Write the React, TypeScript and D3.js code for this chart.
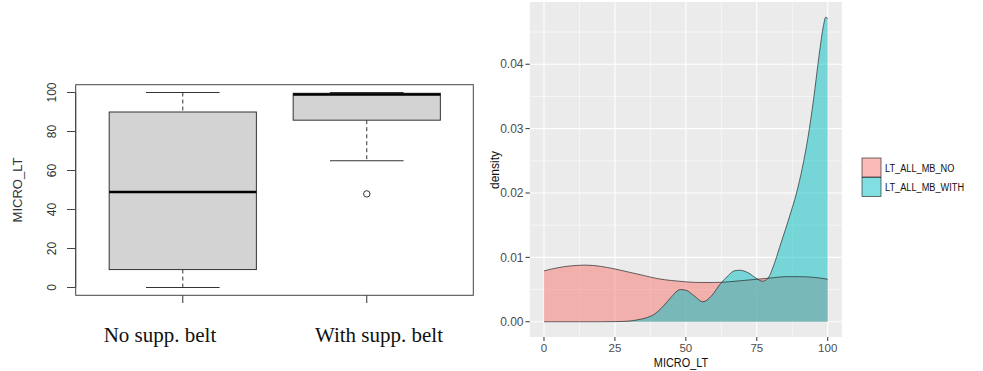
import { useEffect, useRef } from 'react';
import * as d3 from 'd3';

// left panel: boxplot of MICRO_LT by group
const groups = ['No supp. belt', 'With supp. belt'];
const whiskerLow = [0, 65];
const q1 = [9.2, 85.8];
const medians = [49, 99];
const q3 = [90, 99.6];
const whiskerHigh = [100, 100];
const outliers = [[], [48]];
const boxTicks = [0, 20, 40, 60, 80, 100];

// right panel: density curves
const noBeltX = [0, 5, 10, 15, 20, 25, 30, 35, 40, 45, 50, 55, 60, 65, 70, 75, 80, 85, 90, 95, 100];
const noBeltDensity = [0.0079, 0.0084, 0.0087, 0.0088, 0.0086, 0.0082, 0.0077, 0.0072, 0.0067, 0.0064, 0.0062, 0.0061, 0.0061, 0.0062, 0.0064, 0.0066, 0.0068, 0.007, 0.007, 0.0069, 0.0066];
const withBeltX = [0, 10, 20, 25, 30, 33, 36, 39, 42, 45, 48, 50, 53, 56, 59, 62, 65, 67, 69, 72, 75, 77, 79, 81, 83, 85, 87, 89, 91, 93, 95, 97, 98.5, 99.3, 100];
const withBeltDensity = [0, 0, 0, 0.00002, 0.0001, 0.0003, 0.0006, 0.0012, 0.0024, 0.0039, 0.005, 0.0049, 0.004, 0.0031, 0.004, 0.0058, 0.0072, 0.0079, 0.008, 0.0076, 0.0067, 0.0063, 0.0068, 0.0088, 0.0115, 0.0142, 0.017, 0.02, 0.0238, 0.0285, 0.0345, 0.0415, 0.046, 0.0473, 0.0471];
const seriesNames = ['LT_ALL_MB_NO', 'LT_ALL_MB_WITH'];
const densityXTicks = [0, 25, 50, 75, 100];
const densityYTicks = [0, 0.01, 0.02, 0.03, 0.04];

export default function App() {
  const svgRef = useRef<SVGSVGElement>(null);

  useEffect(() => {
    const svg = d3.select(svgRef.current);
    svg.selectAll('*').remove();

    svg.append('rect').attr('width', 983).attr('height', 371).attr('fill', '#fff');

    // ---------- boxplot ----------
    const bx = d3.scaleLinear().domain([0.418, 2.579]).range([75.7, 473.3]);
    const by = d3.scaleLinear().domain([-4, 104]).range([295.3, 84.7]);
    const left = svg.append('g').attr('font-family', '"Liberation Sans", Arial, sans-serif');
    const boxW = 0.8;

    groups.forEach((g, i) => {
      const cx = bx(i + 1);
      const x0 = bx(i + 1 - boxW / 2);
      const x1 = bx(i + 1 + boxW / 2);
      const c0 = bx(i + 1 - boxW / 4);
      const c1 = bx(i + 1 + boxW / 4);
      // whiskers
      left.append('line').attr('x1', cx).attr('x2', cx).attr('y1', by(whiskerHigh[i])).attr('y2', by(q3[i]))
        .attr('stroke', '#333').attr('stroke-dasharray', '4,3');
      left.append('line').attr('x1', cx).attr('x2', cx).attr('y1', by(q1[i])).attr('y2', by(whiskerLow[i]))
        .attr('stroke', '#333').attr('stroke-dasharray', '4,3');
      left.append('line').attr('x1', c0).attr('x2', c1).attr('y1', by(whiskerHigh[i])).attr('y2', by(whiskerHigh[i]))
        .attr('stroke', '#333');
      left.append('line').attr('x1', c0).attr('x2', c1).attr('y1', by(whiskerLow[i])).attr('y2', by(whiskerLow[i]))
        .attr('stroke', '#333');
      // box
      left.append('rect').attr('x', x0).attr('y', by(q3[i])).attr('width', x1 - x0).attr('height', by(q1[i]) - by(q3[i]))
        .attr('fill', '#d3d3d3').attr('stroke', '#333');
      left.append('line').attr('x1', x0).attr('x2', x1).attr('y1', by(medians[i])).attr('y2', by(medians[i]))
        .attr('stroke', '#000').attr('stroke-width', 2.6);
      outliers[i].forEach(o => {
        left.append('circle').attr('cx', cx).attr('cy', by(o)).attr('r', 3.2)
          .attr('fill', 'none').attr('stroke', '#333');
      });
      left.append('line').attr('x1', cx).attr('x2', cx).attr('y1', 295.3).attr('y2', 303).attr('stroke', '#333');
    });

    left.append('rect').attr('x', 75.7).attr('y', 84.7).attr('width', 473.3 - 75.7).attr('height', 295.3 - 84.7)
      .attr('fill', 'none').attr('stroke', '#444');

    // y axis
    left.append('line').attr('x1', 75.7).attr('x2', 75.7).attr('y1', by(0)).attr('y2', by(100)).attr('stroke', '#444');
    boxTicks.forEach(t => {
      left.append('line').attr('x1', 67).attr('x2', 75.7).attr('y1', by(t)).attr('y2', by(t)).attr('stroke', '#444');
      left.append('text').attr('transform', `translate(56,${by(t)}) rotate(-90)`)
        .attr('text-anchor', 'middle').attr('font-size', 12).attr('fill', '#333').text(t);
    });
    left.append('text').attr('transform', `translate(22,${(84.7 + 295.3) / 2}) rotate(-90)`)
      .attr('text-anchor', 'middle').attr('font-size', 13).attr('fill', '#333').text('MICRO_LT');

    // group labels (serif, placed under each box)
    const labelX = [160, 379];
    groups.forEach((g, i) => {
      svg.append('text').attr('x', labelX[i]).attr('y', 342).attr('text-anchor', 'middle')
        .attr('font-family', '"Liberation Serif", "Times New Roman", serif').attr('font-size', 21)
        .attr('fill', '#111').text(g);
    });

    // ---------- density plot ----------
    const dx = d3.scaleLinear().domain([-5, 105]).range([529.8, 841.9]);
    const dy = d3.scaleLinear().domain([-0.00237, 0.04967]).range([337, 2]);
    const right = svg.append('g').attr('font-family', '"Liberation Sans", Arial, sans-serif');

    right.append('rect').attr('x', dx(-5)).attr('y', dy(0.04967)).attr('width', dx(105) - dx(-5))
      .attr('height', dy(-0.00237) - dy(0.04967)).attr('fill', '#ebebeb');

    const minorX = [12.5, 37.5, 62.5, 87.5];
    const minorY = [0.005, 0.015, 0.025, 0.035, 0.045];
    minorX.forEach(v => right.append('line').attr('x1', dx(v)).attr('x2', dx(v)).attr('y1', dy(0.04967)).attr('y2', dy(-0.00237))
      .attr('stroke', '#fff').attr('stroke-width', 0.55));
    minorY.forEach(v => right.append('line').attr('x1', dx(-5)).attr('x2', dx(105)).attr('y1', dy(v)).attr('y2', dy(v))
      .attr('stroke', '#fff').attr('stroke-width', 0.55));
    densityXTicks.forEach(v => right.append('line').attr('x1', dx(v)).attr('x2', dx(v)).attr('y1', dy(0.04967)).attr('y2', dy(-0.00237))
      .attr('stroke', '#fff').attr('stroke-width', 1.1));
    densityYTicks.forEach(v => right.append('line').attr('x1', dx(-5)).attr('x2', dx(105)).attr('y1', dy(v)).attr('y2', dy(v))
      .attr('stroke', '#fff').attr('stroke-width', 1.1));

    const colors = ['#F8766D', '#00BFC4'];
    const series = [
      noBeltX.map((x, i) => [x, noBeltDensity[i]] as [number, number]),
      withBeltX.map((x, i) => [x, withBeltDensity[i]] as [number, number]),
    ];
    const area = d3.area<[number, number]>().x(d => dx(d[0])).y0(dy(0)).y1(d => dy(d[1])).curve(d3.curveMonotoneX);
    const line = d3.line<[number, number]>().x(d => dx(d[0])).y(d => dy(d[1])).curve(d3.curveMonotoneX);
    series.forEach((s, i) => {
      right.append('path').attr('d', area(s)).attr('fill', colors[i]).attr('fill-opacity', 0.5);
    });
    series.forEach(s => {
      right.append('path').attr('d', line(s)).attr('fill', 'none').attr('stroke', '#222')
        .attr('stroke-opacity', 0.75).attr('stroke-width', 0.9);
    });

    // axes
    densityYTicks.forEach(v => {
      right.append('line').attr('x1', 525.5).attr('x2', 529.8).attr('y1', dy(v)).attr('y2', dy(v)).attr('stroke', '#333');
      right.append('text').attr('x', 523.5).attr('y', dy(v)).attr('dy', '0.35em').attr('text-anchor', 'end')
        .attr('font-size', 12).attr('fill', '#4d4d4d').text(v.toFixed(2));
    });
    densityXTicks.forEach(v => {
      right.append('line').attr('x1', dx(v)).attr('x2', dx(v)).attr('y1', 337).attr('y2', 341).attr('stroke', '#333');
      right.append('text').attr('x', dx(v)).attr('y', 352).attr('text-anchor', 'middle')
        .attr('font-size', 11.5).attr('fill', '#4d4d4d').text(v);
    });
    right.append('text').attr('transform', `translate(681,367) scale(0.84,1)`).attr('text-anchor', 'middle')
      .attr('font-size', 13).attr('fill', '#111').text('MICRO_LT');
    right.append('text').attr('transform', `translate(499,170) rotate(-90)`).attr('text-anchor', 'middle')
      .attr('font-size', 12).attr('fill', '#111').text('density');

    // legend
    seriesNames.forEach((name, i) => {
      const y = 158 + i * 19.5;
      right.append('rect').attr('x', 862).attr('y', y).attr('width', 19).attr('height', 19)
        .attr('fill', colors[i]).attr('fill-opacity', 0.5).attr('stroke', '#333').attr('stroke-width', 0.7);
      right.append('text').attr('transform', `translate(885,${y + 9.5}) scale(0.8,1)`).attr('dy', '0.35em')
        .attr('font-size', 11.5).attr('fill', '#111').text(name);
    });
  }, []);

  return (
    <svg ref={svgRef} width={983} height={371}
      style={{ position: 'absolute', left: 0, top: 0, display: 'block' }} />
  );
}
